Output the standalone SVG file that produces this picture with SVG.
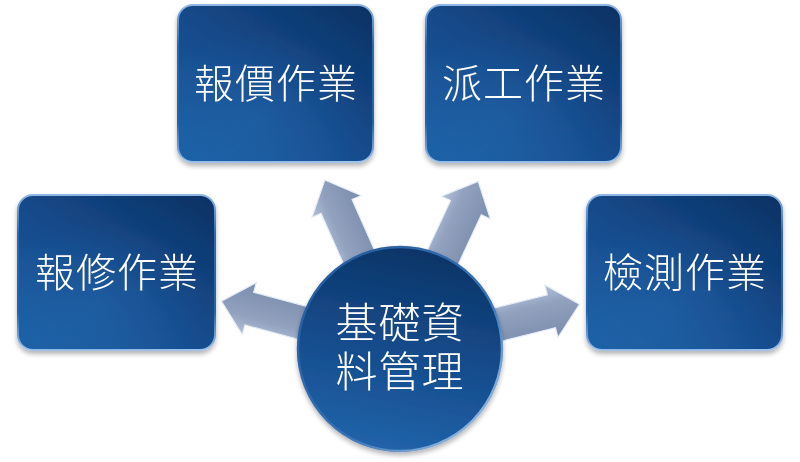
<svg xmlns="http://www.w3.org/2000/svg" width="800" height="462" viewBox="0 0 800 462">
  <defs>
    <linearGradient id="boxGrad" x1="1" y1="0" x2="0.15" y2="1">
      <stop offset="0" stop-color="#0a3163"/>
      <stop offset="0.55" stop-color="#164b8c"/>
      <stop offset="1" stop-color="#1e5fa4"/>
    </linearGradient>
    <radialGradient id="boxGlow" cx="0.4" cy="0.72" r="0.55">
      <stop offset="0" stop-color="#2a6fb5" stop-opacity="0.35"/>
      <stop offset="1" stop-color="#2a6fb5" stop-opacity="0"/>
    </radialGradient>
    <linearGradient id="bevel" x1="0" y1="0" x2="0" y2="1">
      <stop offset="0" stop-color="#8fb6e4"/>
      <stop offset="0.25" stop-color="#2f69ad"/>
      <stop offset="0.75" stop-color="#2462a8"/>
      <stop offset="1" stop-color="#9fc3ec"/>
    </linearGradient>
    <linearGradient id="circGrad" x1="0.6" y1="0" x2="0.4" y2="1">
      <stop offset="0" stop-color="#0b3466"/>
      <stop offset="0.5" stop-color="#154b8b"/>
      <stop offset="1" stop-color="#2163a9"/>
    </linearGradient>
    <linearGradient id="circEdge" x1="0" y1="0" x2="1" y2="1">
      <stop offset="0" stop-color="#24589a"/>
      <stop offset="0.6" stop-color="#3a74b6"/>
      <stop offset="1" stop-color="#b7d3f2"/>
    </linearGradient>
    <linearGradient id="arrowGrad" x1="0" y1="0" x2="0" y2="1">
      <stop offset="0" stop-color="#b3c0d8"/>
      <stop offset="0.35" stop-color="#91a1be"/>
      <stop offset="1" stop-color="#7b8dad"/>
    </linearGradient>
    <filter id="shadow" x="-10%" y="-10%" width="120%" height="125%">
      <feGaussianBlur in="SourceAlpha" stdDeviation="2.5"/>
      <feOffset dx="0" dy="3"/>
      <feComponentTransfer><feFuncA type="linear" slope="0.3"/></feComponentTransfer>
      <feMerge><feMergeNode/><feMergeNode in="SourceGraphic"/></feMerge>
    </filter>
    <path id="arrowShape" d="M80,-17 L156,-17 L156,-27 L185,0 L156,27 L156,17 L80,17 Z"/>
  </defs>
  <style>
    .box { fill: url(#boxGrad); stroke: url(#bevel); stroke-width: 2; }
    .glow { fill: url(#boxGlow); }
    .label { font-family: "Noto Sans CJK TC", "Noto Sans CJK SC", "Noto Sans", sans-serif; font-weight: 300; fill: #ffffff; text-anchor: middle; }
    .boxlabel { font-size: 40px; letter-spacing: 1px; dominant-baseline: central; }
    .circlabel { font-size: 42px; letter-spacing: 1px; }
    .arrow { fill: url(#arrowGrad); stroke: #e6edf7; stroke-width: 1.2; stroke-linejoin: miter; }
  </style>
  <rect width="800" height="462" fill="#ffffff"/>

  <g id="connectors">
    <use href="#arrowShape" class="arrow" transform="translate(400,349) rotate(-114)"/>
    <use href="#arrowShape" class="arrow" transform="translate(400,349) rotate(-65)"/>
    <use href="#arrowShape" class="arrow" transform="translate(400,349) rotate(-165)"/>
    <use href="#arrowShape" class="arrow" transform="translate(400,349) rotate(-14)"/>
  </g>

  <g id="node-baojia" filter="url(#shadow)">
    <rect class="box" x="178" y="5" width="195" height="157" rx="15"/>
    <rect class="glow" x="178" y="5" width="195" height="157" rx="15"/>
    <text class="label boxlabel" x="276" y="81">報價作業</text>
  </g>
  <g id="node-paigong" filter="url(#shadow)">
    <rect class="box" x="426" y="5" width="195" height="157" rx="15"/>
    <rect class="glow" x="426" y="5" width="195" height="157" rx="15"/>
    <text class="label boxlabel" x="524" y="81">派工作業</text>
  </g>
  <g id="node-baoxiu" filter="url(#shadow)">
    <rect class="box" x="18" y="195" width="197" height="155" rx="15"/>
    <rect class="glow" x="18" y="195" width="197" height="155" rx="15"/>
    <text class="label boxlabel" x="117" y="270">報修作業</text>
  </g>
  <g id="node-jiance" filter="url(#shadow)">
    <rect class="box" x="587" y="195" width="195" height="155" rx="15"/>
    <rect class="glow" x="587" y="195" width="195" height="155" rx="15"/>
    <text class="label boxlabel" x="685" y="270">檢測作業</text>
  </g>

  <g id="node-center" filter="url(#shadow)">
    <circle cx="400" cy="349" r="102" fill="url(#circGrad)" stroke="url(#circEdge)" stroke-width="2.5"/>
    <text class="label circlabel" x="400" y="338"><tspan x="400" y="338">基礎資</tspan><tspan x="400" y="387">料管理</tspan></text>
  </g>
</svg>
